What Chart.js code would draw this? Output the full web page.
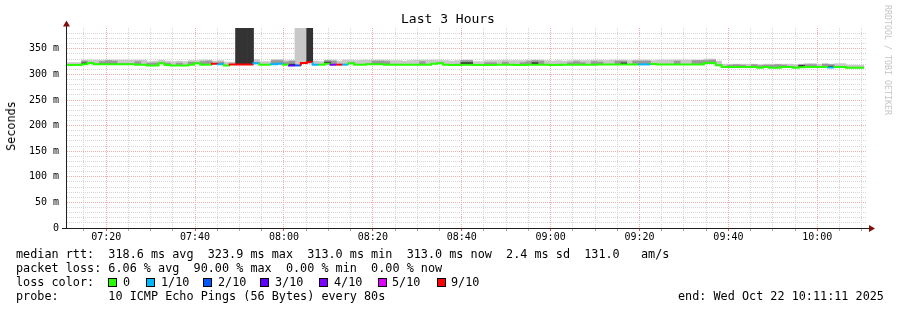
<!DOCTYPE html>
<html><head><meta charset="utf-8">
<script src="https://cdn.jsdelivr.net/npm/chart.js@4.4.1/dist/chart.umd.min.js"></script>
<style>
html,body{margin:0;padding:0;background:#fff;}
#wrap{position:relative;width:897px;height:310px;overflow:hidden;background:#fff;}
canvas{position:absolute;left:0;top:0;}
.t{position:absolute;font-family:"DejaVu Sans Mono",monospace;color:#000;white-space:pre;margin:0;font-size:11.8px;line-height:14px;}
.box{position:absolute;width:7px;height:7px;border:1px solid #000;top:278px;}
</style></head><body>
<div id="wrap">
<canvas id="c" width="897" height="310"></canvas>
<div class="t" style="left:0;width:896px;text-align:center;top:11px;font-size:13px;line-height:16px;">Last 3 Hours</div>
<div class="t" style="left:11px;top:126px;transform:translate(-50%,-50%) rotate(-90deg);">Seconds</div>
<div class="t" style="left:888px;top:60px;font-size:8.3px;line-height:10px;color:#c4c4c4;transform:translate(-50%,-50%) rotate(90deg);">RRDTOOL / TOBI OETIKER</div>
<div class="t" style="left:16px;top:247px;">median rtt:  318.6 ms avg  323.9 ms max  313.0 ms min  313.0 ms now  2.4 ms sd  131.0   am/s</div>
<div class="t" style="left:16px;top:261px;">packet loss: 6.06 % avg  90.00 % max  0.00 % min  0.00 % now</div>
<div class="t" style="left:16px;top:275px;">loss color:</div>
<div id="legend"></div>
<div class="t" style="left:16px;top:288.5px;">probe:       10 ICMP Echo Pings (56 Bytes) every 80s</div>
<div class="t" style="left:678px;top:288.5px;">end: Wed Oct 22 10:11:11 2025</div>
</div>
<script>
// ---- data ----
const STEP = 80;                 // seconds per RRD step
const FIRST_STEP = 25828;        // start of first step, seconds of day (07:10:28)
const X_MIN = 25871;             // 07:11:11
const X_MAX = 36671;             // 10:11:11
const xTickLabels = ['07:20','07:40','08:00','08:20','08:40','09:00','09:20','09:40','10:00'];
const yTickLabels = ['0','50 m','100 m','150 m','200 m','250 m','300 m','350 m'];
const lossLabels = ['0','1/10','2/10','3/10','4/10','5/10','9/10'];
const lossLevels = [0,1,2,3,4,5,9];

const medianRtt = [
318.5,318.5,318.5,320,322.5,320,320,320,320,320,
320,320,319,319,317.5,317.5,322,318.5,317.5,317.5,
317.5,319,322,319,319,321,320,317.5,319.5,319.5,
319.5,319.5,322,319,319,320,321,319,317.5,317.5,
322.5,323.9,319,319,321,319,319,319,322,319,
319,320,320,320,319,319,319,319,319,319,
319,319,321,322,319,318.5,318.5,319,319,318.5,
318.5,318.5,318.5,319,319,319,318.5,318.5,319,319,
319,319,318.5,318.5,319,319,319,319,319,319,
319.5,319.5,319.5,319.5,319.5,319.5,319.5,319.5,319.5,320.5,
319.5,319.5,319.5,319.5,319.5,319.5,319.5,319.5,322.5,322.5,
318,314.5,314.5,314.5,314.5,314.5,314.5,313.2,314.5,313.2,
313.2,314.5,314.5,313.2,314,314.5,314.5,314.5,314.5,313.5,
314.5,314.5,313,313,313];

const lossTenths = [
0,0,0,0,0,0,0,0,0,0,
0,0,0,0,0,0,0,0,0,0,
0,0,0,0,0,9,1,0,9,9,
9,9,1,0,0,1,1,0,3,2,
9,9,1,0,0,4,9,1,0,0,
0,0,0,0,0,0,0,0,0,0,
0,0,0,0,0,0,0,0,0,0,
0,0,0,0,0,0,0,0,0,0,
0,0,0,0,0,0,0,0,0,0,
0,0,0,0,0,0,0,1,1,0,
0,0,0,0,0,0,0,0,0,0,
0,0,0,0,0,0,0,0,0,0,
0,0,0,0,0,0,0,0,0,1,
0,0,0,0,0];

const pingMax = [
323,323,323,328,328,328,328,328,328,328,
328,328,328,328,325,326,328,326,325,326,
325,327,327,328,328,326,327,324,324,420,
420,420,329,325,325,329,329,327,327,420,
420,420,326,325,328,328,326,328,328,327,
328,328,328,328,328,327,327,326,327,328,
328,328,328,328,327,326,327,328,328,325,
325,327,327,327,328,327,327,327,328,328,
328,327,326,327,326,327,328,327,327,328,
328,327,328,328,328,327,328,328,328,327,
328,328,328,328,328,328,328,328,330,330,
326,320,320,320,320,320,320,319,320,320,
320,320,320,319,320,321,321,320,321,320,
321,321,318,318,318];

const pingP75 = [
318.5,318.5,318.5,326,322.5,320,325,327,326,320,
320,320,325,319,322,322,322,322,317.5,322,
317.5,324,322,325,326,321,324,317.5,319.5,420,
420,420,322,319,319,327,327,324,326,317.5,
322.5,420,319,319,327,326,319,319,322,319,
319,320,326,326,325,319,319,319,319,319,
325,319,321,322,319,319,320,327,327,318.5,
318.5,323,323,319,324,319,319,323,325,327,
326,319,319,320,319,323,325,323,319,325,
324,319.5,319.5,326,326,319.5,326,326,326,320.5,
319.5,319.5,319.5,326,319.5,319.5,327,327,327,328,
318,314.5,318,319,318,314.5,319,317,318,318,
319,318,314.5,314.5,319,319,319,314.5,320,319,
314.5,314.5,313,313,313];

const pingP60 = [
318.5,318.5,318.5,322.5,322.5,320,320,320,320,320,
320,320,319,319,317.5,317.5,322,318.5,317.5,317.5,
317.5,319,322,319,319,321,320,317.5,319.5,420,
420,420,322,319,319,320,321,319,320,317.5,
322.5,420,319,319,324,319,319,319,322,319,
319,320,320,320,319,319,319,319,319,319,
319,319,321,322,319,318.5,318.5,323,323,318.5,
318.5,318.5,318.5,319,319,319,318.5,318.5,319,323,
319,319,318.5,318.5,319,319,319,319,319,319,
319.5,319.5,319.5,319.5,322.5,319.5,319.5,319.5,319.5,320.5,
319.5,319.5,319.5,319.5,319.5,319.5,319.5,319.5,322.5,322.5,
318,314.5,314.5,314.5,314.5,314.5,314.5,313.2,314.5,313.2,
313.2,314.5,314.5,313.2,317.5,314.5,314.5,314.5,314.5,316,
314.5,314.5,313,313,313];

// ---- styles ----
const LOSS_COLORS = {0:'#26ff00',1:'#00b8ff',2:'#0059ff',3:'#5e00ff',4:'#7e00ff',5:'#dd00ff',6:'#dd00ff',7:'#dd00ff',8:'#dd00ff',9:'#ff0000',10:'#ff0000'};
const GRID_MINOR = '#d6d6d6';
const GRID_MAJOR = '#f0abab';

// legend boxes
(function(){
  const lg = document.getElementById('legend');
  const boxX = [108,146,203,260,319,378,437];
  const txtX = [123,161,218,275,334,392,451];
  lossLevels.forEach((lv,i)=>{
    const b = document.createElement('div');
    b.className='box'; b.style.left = boxX[i]+'px'; b.style.background = LOSS_COLORS[lv];
    lg.appendChild(b);
    const t = document.createElement('div');
    t.className='t'; t.style.left = txtX[i]+'px'; t.style.top='275px'; t.textContent = lossLabels[i];
    lg.appendChild(t);
  });
})();

const centers = medianRtt.map((_,j)=> FIRST_STEP + j*STEP + STEP/2);
const band = (tops) => tops.map((v,j)=>({x: centers[j], y:[medianRtt[j], v]}));
const linePts = [];
medianRtt.forEach((m,j)=>{
  linePts.push({x: FIRST_STEP + j*STEP, y: m});
  linePts.push({x: FIRST_STEP + (j+1)*STEP, y: m});
});

const barCommon = {type:'bar', grouped:false, barPercentage:1, categoryPercentage:1, borderWidth:0, borderSkipped:false};

const axisPlugin = {
  id:'rrdAxes',
  afterDraw(chart){
    const ctx = chart.ctx, a = chart.chartArea;
    const y0 = Math.round(chart.scales.y.getPixelForValue(0));
    const xl = Math.round(a.left) - 1;
    ctx.save();
    ctx.fillStyle = '#202020';
    ctx.fillRect(xl, 26, 1, y0 - 26 + 1);
    ctx.fillRect(62, y0, 869 - 62, 1);
    ctx.fillStyle = '#801010';
    ctx.beginPath();
    ctx.moveTo(xl + 0.5, 20.5); ctx.lineTo(xl + 4, 26.5); ctx.lineTo(xl - 3, 26.5); ctx.closePath(); ctx.fill();
    ctx.beginPath();
    ctx.moveTo(875, y0 + 0.5); ctx.lineTo(869, y0 - 3); ctx.lineTo(869, y0 + 4); ctx.closePath(); ctx.fill();
    ctx.restore();
  }
};

Chart.defaults.font.family = '"DejaVu Sans Mono", monospace';

new Chart(document.getElementById('c'), {
  type:'bar',
  data:{
    datasets:[
      {type:'line', data: linePts, order:0, borderWidth:2, pointRadius:0, tension:0, fill:false,
       borderCapStyle:'butt', borderJoinStyle:'miter',
       segment:{borderColor: c => LOSS_COLORS[lossTenths[Math.floor(c.p1DataIndex/2)]]}},
      Object.assign({data: band(pingP60), order:1, backgroundColor:'#333333'}, barCommon),
      Object.assign({data: band(pingP75), order:2, backgroundColor:'#999999'}, barCommon),
      Object.assign({data: band(pingMax), order:3, backgroundColor:'#c8c8c8'}, barCommon)
    ]
  },
  options:{
    responsive:false, animation:false, events:[],
    layout:{padding:{left:0, right:30, top:28, bottom:68}},
    plugins:{legend:{display:false}, tooltip:{enabled:false}, title:{display:false}},
    scales:{
      x:{type:'linear', min:X_MIN, max:X_MAX, offset:false,
         afterFit: s => { s.height = 14; },
         afterBuildTicks: s => { const t=[]; for (let v=26100; v<=36600; v+=300) t.push({value:v}); s.ticks = t; },
         ticks:{autoSkip:false, maxRotation:0, minRotation:0, padding:0, color:'#000', font:{size:10},
           callback: v => { const k=(v-26400)/1200; return (Number.isInteger(k) && k>=0 && k<xTickLabels.length) ? xTickLabels[k] : ''; }},
         grid:{offset:false, drawTicks:true, tickLength:3, tickWidth:1, tickBorderDash:[],
           color: c => (c.tick && (c.tick.value-26400)%1200===0) ? GRID_MAJOR : GRID_MINOR,
           tickColor: c => (c.tick && (c.tick.value-26400)%1200===0) ? '#e05050' : '#aaaaaa'},
         border:{display:false, dash:[1,1]}},
      y:{type:'linear', min:0, max:390.625,
         afterFit: s => { s.width = 67; },
         afterBuildTicks: s => { const t=[]; for (let v=0; v<=380; v+=10) t.push({value:v}); s.ticks = t; },
         ticks:{autoSkip:false, padding:8, color:'#000', font:{size:10},
           callback: v => (v%50===0) ? yTickLabels[v/50] : ''},
         grid:{drawTicks:false,
           color: c => (c.tick && c.tick.value%50===0) ? GRID_MAJOR : GRID_MINOR},
         border:{display:false, dash:[1,1]}}
    }
  },
  plugins:[axisPlugin]
});
</script>
</body></html>
